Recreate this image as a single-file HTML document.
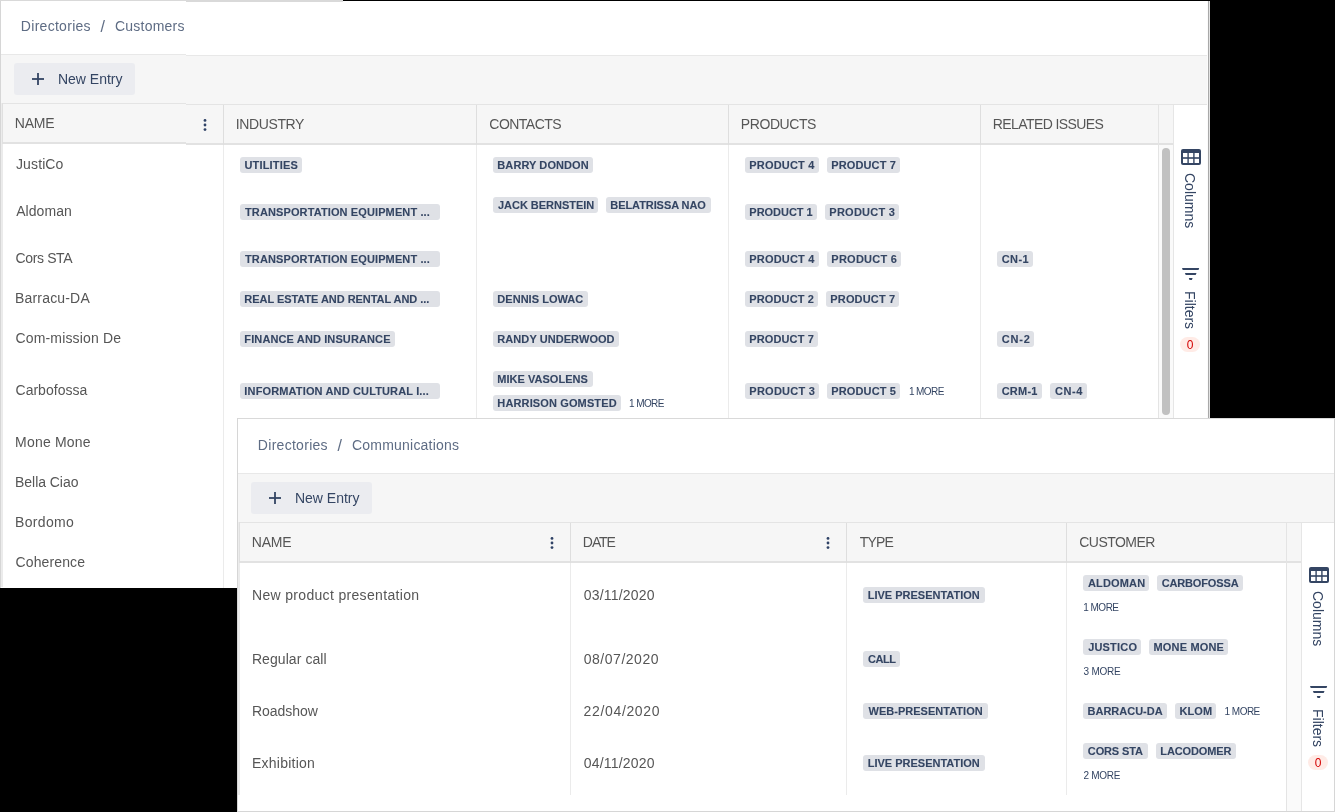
<!DOCTYPE html>
<html><head><meta charset="utf-8"><title>Directories</title><style>
*{margin:0;padding:0;box-sizing:border-box}
html,body{width:1335px;height:812px;overflow:hidden;background:#000}
body{position:relative;font-family:"Liberation Sans", sans-serif;-webkit-font-smoothing:antialiased}
.t{position:absolute;white-space:pre;line-height:normal}
.r{position:absolute}
.tag{position:absolute;height:16px;background:#dfe1e6;border-radius:3px;color:#344563;
 font-weight:bold;font-size:11px;line-height:16px;padding-left:4.5px;white-space:nowrap;overflow:hidden}
.tag span{position:relative;top:0px}
.frame{position:absolute;overflow:hidden}
.lay{will-change:transform}
</style></head>
<body>
<div class="frame lay" style="left:186px;top:0;width:1024px;height:588px;">
 <div class="frame" style="left:-186px;top:0;width:1210px;height:589px;"><div class="r" style="left:0px;top:0px;width:1210px;height:590px;background:#fff;"></div><div class="r" style="left:0px;top:0px;width:1210px;height:1px;background:#d9d9d9;"></div><div class="r" style="left:0px;top:0px;width:1px;height:590px;background:#d6d6d6;"></div><div class="t" style="left:20.85px;top:19px;font-size:14px;color:#5e6c84;letter-spacing:0.285px;">Directories</div><div class="t" style="left:100.50px;top:19px;font-size:16px;color:#5e6c84;letter-spacing:0.000px;">/</div><div class="t" style="left:115.00px;top:19px;font-size:14px;color:#5e6c84;letter-spacing:0.213px;">Customers</div><div class="r" style="left:1px;top:55px;width:1209px;height:1px;background:#e8e8e8;"></div><div class="r" style="left:1px;top:56px;width:1209px;height:48px;background:#f6f6f6;"></div><div class="r" style="left:14px;top:64px;width:121px;height:32px;background:#ebecf0;border-radius:3px;"></div><svg class="r" style="left:32px;top:74px" width="12" height="12" viewBox="0 0 12 12"><rect x="5.1" y="0" width="1.8" height="12" fill="#344563"/><rect x="0" y="5.1" width="12" height="1.8" fill="#344563"/></svg><div class="t" style="left:57.95px;top:72px;font-size:14px;color:#344563;letter-spacing:-0.006px;">New Entry</div><div class="r" style="left:2px;top:104px;width:1207px;height:1px;background:#e4e4e4;"></div><div class="r" style="left:2px;top:105px;width:1171px;height:38px;background:#f6f6f6;"></div><div class="r" style="left:2px;top:143px;width:1171px;height:2px;background:#e2e2e2;"></div><div class="r" style="left:1px;top:104px;width:1px;height:484px;background:#ececec;"></div><div class="r" style="left:2px;top:104px;width:1px;height:41px;background:#e0e0e0;"></div><div class="r" style="left:2px;top:145px;width:1px;height:443px;background:#ebebeb;"></div><div class="r" style="left:1173px;top:105px;width:36px;height:485px;background:#fff;"></div><div class="r" style="left:1173px;top:105px;width:1px;height:485px;background:#e6e6e6;"></div><div class="r" style="left:1158px;top:145px;width:15px;height:445px;background:#fafafa;"></div><div class="r" style="left:1158px;top:105px;width:1px;height:485px;background:#e4e4e4;"></div><div class="r" style="left:223px;top:105px;width:1px;height:40px;background:#dedede;"></div><div class="r" style="left:223px;top:145px;width:1px;height:443px;background:#ebebeb;"></div><div class="r" style="left:476px;top:105px;width:1px;height:40px;background:#dedede;"></div><div class="r" style="left:476px;top:145px;width:1px;height:443px;background:#ebebeb;"></div><div class="r" style="left:728px;top:105px;width:1px;height:40px;background:#dedede;"></div><div class="r" style="left:728px;top:145px;width:1px;height:443px;background:#ebebeb;"></div><div class="r" style="left:980px;top:105px;width:1px;height:40px;background:#dedede;"></div><div class="r" style="left:980px;top:145px;width:1px;height:443px;background:#ebebeb;"></div><div class="t" style="left:14.85px;top:116px;font-size:14px;color:#565656;letter-spacing:-0.267px;">NAME</div><svg class="r" style="left:200.9px;top:116px" width="8" height="18" viewBox="0 0 8 18"><circle cx="4" cy="4.4" r="1.4" fill="#2f4266"/><circle cx="4" cy="9" r="1.4" fill="#2f4266"/><circle cx="4" cy="13.6" r="1.4" fill="#2f4266"/></svg><div class="t" style="left:235.70px;top:116px;font-size:14px;color:#565656;letter-spacing:-0.371px;">INDUSTRY</div><div class="t" style="left:489.30px;top:116px;font-size:14px;color:#565656;letter-spacing:-0.521px;">CONTACTS</div><div class="t" style="left:740.85px;top:116px;font-size:14px;color:#565656;letter-spacing:-0.421px;">PRODUCTS</div><div class="t" style="left:992.85px;top:116px;font-size:14px;color:#565656;letter-spacing:-0.604px;">RELATED ISSUES</div><svg class="r" style="left:1181.2px;top:149px" width="20" height="16" viewBox="0 0 20 16"><rect x="0" y="0" width="20" height="16" rx="2" fill="#344563"/><rect x="2" y="4" width="4.4" height="4.2" fill="#fff"/><rect x="7.8" y="4" width="4.4" height="4.2" fill="#fff"/><rect x="13.6" y="4" width="4.4" height="4.2" fill="#fff"/><rect x="2" y="9.8" width="4.4" height="4.2" fill="#fff"/><rect x="7.8" y="9.8" width="4.4" height="4.2" fill="#fff"/><rect x="13.6" y="9.8" width="4.4" height="4.2" fill="#fff"/></svg><div class="t" style="left:1197.6px;top:173.3px;font-size:14px;color:#344563;transform-origin:0 0;transform:rotate(90deg);">Columns</div><svg class="r" style="left:1182.4px;top:268px" width="18" height="12" viewBox="0 0 18 12"><polygon points="0,0 17.2,0 16.5,2 0.7,2" fill="#344563"/><polygon points="2.9,5 14.5,5 13.7,7 3.7,7" fill="#344563"/><polygon points="6.8,10 10.6,10 9.9,12 7.5,12" fill="#344563"/></svg><div class="t" style="left:1197.6px;top:290.8px;font-size:14px;color:#344563;transform-origin:0 0;transform:rotate(90deg);">Filters</div><div class="r" style="left:1180px;top:337px;width:20px;height:15px;border-radius:8px;background:#ffebe6;"></div><div class="t" style="left:1186.7px;top:338px;font-size:12px;color:#d40000;">0</div><div class="r" style="left:1207px;top:1px;width:1px;height:590px;background:#fbfbfb;"></div><div class="r" style="left:1208px;top:0px;width:1px;height:590px;background:#a9a9a9;"></div><div class="r" style="left:1209px;top:0px;width:1px;height:590px;background:#e2e2e2;"></div><div class="r" style="left:1162px;top:148px;width:8px;height:267px;background:#c1c1c1;border-radius:4px;"></div><div class="t" style="left:16.00px;top:157px;font-size:14px;color:#565656;letter-spacing:0.117px;">JustiCo</div><div class="t" style="left:16.15px;top:204px;font-size:14px;color:#565656;letter-spacing:0.067px;">Aldoman</div><div class="t" style="left:15.50px;top:251px;font-size:14px;color:#565656;letter-spacing:-0.364px;">Cors STA</div><div class="t" style="left:15.05px;top:291px;font-size:14px;color:#565656;letter-spacing:0.172px;">Barracu-DA</div><div class="t" style="left:15.50px;top:331px;font-size:14px;color:#565656;letter-spacing:0.158px;">Com-mission De</div><div class="t" style="left:15.50px;top:383px;font-size:14px;color:#565656;letter-spacing:0.022px;">Carbofossa</div><div class="t" style="left:15.05px;top:435px;font-size:14px;color:#565656;letter-spacing:0.206px;">Mone Mone</div><div class="t" style="left:15.05px;top:475px;font-size:14px;color:#565656;letter-spacing:-0.044px;">Bella Ciao</div><div class="t" style="left:15.05px;top:515px;font-size:14px;color:#565656;letter-spacing:0.342px;">Bordomo</div><div class="t" style="left:15.50px;top:555px;font-size:14px;color:#565656;letter-spacing:0.131px;">Coherence</div><div class="tag" style="left:240.00px;top:157.00px;width:61.80px;"></div><div class="t" style="left:244.45px;top:159px;font-size:11px;color:#344563;letter-spacing:0.181px;font-weight:bold;-webkit-text-stroke:0.1px currentColor;">UTILITIES</div><div class="tag" style="left:493.00px;top:157.00px;width:99.90px;"></div><div class="t" style="left:497.35px;top:159px;font-size:11px;color:#344563;letter-spacing:0.077px;font-weight:bold;-webkit-text-stroke:0.1px currentColor;">BARRY DONDON</div><div class="tag" style="left:745.00px;top:157.00px;width:73.70px;"></div><div class="t" style="left:749.35px;top:159px;font-size:11px;color:#344563;letter-spacing:0.181px;font-weight:bold;-webkit-text-stroke:0.1px currentColor;">PRODUCT 4</div><div class="tag" style="left:827.00px;top:157.00px;width:72.70px;"></div><div class="t" style="left:831.35px;top:159px;font-size:11px;color:#344563;letter-spacing:0.106px;font-weight:bold;-webkit-text-stroke:0.1px currentColor;">PRODUCT 7</div><div class="tag" style="left:240.00px;top:204.00px;width:200.00px;"></div><div class="t" style="left:245.00px;top:206px;font-size:11px;color:#344563;letter-spacing:0.115px;font-weight:bold;-webkit-text-stroke:0.1px currentColor;">TRANSPORTATION EQUIPMENT ...</div><div class="tag" style="left:493.00px;top:197.00px;width:104.90px;"></div><div class="t" style="left:497.95px;top:199px;font-size:11px;color:#344563;letter-spacing:-0.019px;font-weight:bold;-webkit-text-stroke:0.1px currentColor;">JACK BERNSTEIN</div><div class="tag" style="left:606.00px;top:197.00px;width:105.00px;"></div><div class="t" style="left:610.35px;top:199px;font-size:11px;color:#344563;letter-spacing:-0.081px;font-weight:bold;-webkit-text-stroke:0.1px currentColor;">BELATRISSA NAO</div><div class="tag" style="left:745.00px;top:204.00px;width:71.80px;"></div><div class="t" style="left:749.35px;top:206px;font-size:11px;color:#344563;letter-spacing:-0.025px;font-weight:bold;-webkit-text-stroke:0.1px currentColor;">PRODUCT 1</div><div class="tag" style="left:825.00px;top:204.00px;width:73.90px;"></div><div class="t" style="left:829.35px;top:206px;font-size:11px;color:#344563;letter-spacing:0.250px;font-weight:bold;-webkit-text-stroke:0.1px currentColor;">PRODUCT 3</div><div class="tag" style="left:240.00px;top:251.00px;width:200.00px;"></div><div class="t" style="left:245.00px;top:253px;font-size:11px;color:#344563;letter-spacing:0.115px;font-weight:bold;-webkit-text-stroke:0.1px currentColor;">TRANSPORTATION EQUIPMENT ...</div><div class="tag" style="left:745.00px;top:251.00px;width:73.70px;"></div><div class="t" style="left:749.35px;top:253px;font-size:11px;color:#344563;letter-spacing:0.181px;font-weight:bold;-webkit-text-stroke:0.1px currentColor;">PRODUCT 4</div><div class="tag" style="left:827.00px;top:251.00px;width:73.90px;"></div><div class="t" style="left:831.35px;top:253px;font-size:11px;color:#344563;letter-spacing:0.250px;font-weight:bold;-webkit-text-stroke:0.1px currentColor;">PRODUCT 6</div><div class="tag" style="left:997.00px;top:251.00px;width:35.70px;"></div><div class="t" style="left:1001.65px;top:253px;font-size:11px;color:#344563;letter-spacing:0.433px;font-weight:bold;-webkit-text-stroke:0.1px currentColor;">CN-1</div><div class="tag" style="left:240.00px;top:291.00px;width:200.00px;"></div><div class="t" style="left:244.35px;top:293px;font-size:11px;color:#344563;letter-spacing:-0.050px;font-weight:bold;-webkit-text-stroke:0.1px currentColor;">REAL ESTATE AND RENTAL AND ...</div><div class="tag" style="left:493.00px;top:291.00px;width:94.90px;"></div><div class="t" style="left:497.35px;top:293px;font-size:11px;color:#344563;letter-spacing:0.027px;font-weight:bold;-webkit-text-stroke:0.1px currentColor;">DENNIS LOWAC</div><div class="tag" style="left:745.00px;top:291.00px;width:72.80px;"></div><div class="t" style="left:749.35px;top:293px;font-size:11px;color:#344563;letter-spacing:0.112px;font-weight:bold;-webkit-text-stroke:0.1px currentColor;">PRODUCT 2</div><div class="tag" style="left:826.00px;top:291.00px;width:73.00px;"></div><div class="t" style="left:830.35px;top:293px;font-size:11px;color:#344563;letter-spacing:0.144px;font-weight:bold;-webkit-text-stroke:0.1px currentColor;">PRODUCT 7</div><div class="tag" style="left:240.00px;top:331.00px;width:154.90px;"></div><div class="t" style="left:244.35px;top:333px;font-size:11px;color:#344563;letter-spacing:0.117px;font-weight:bold;-webkit-text-stroke:0.1px currentColor;">FINANCE AND INSURANCE</div><div class="tag" style="left:493.00px;top:331.00px;width:125.90px;"></div><div class="t" style="left:497.35px;top:333px;font-size:11px;color:#344563;letter-spacing:0.064px;font-weight:bold;-webkit-text-stroke:0.1px currentColor;">RANDY UNDERWOOD</div><div class="tag" style="left:745.00px;top:331.00px;width:72.70px;"></div><div class="t" style="left:749.35px;top:333px;font-size:11px;color:#344563;letter-spacing:0.106px;font-weight:bold;-webkit-text-stroke:0.1px currentColor;">PRODUCT 7</div><div class="tag" style="left:997.00px;top:331.00px;width:36.80px;"></div><div class="t" style="left:1001.65px;top:333px;font-size:11px;color:#344563;letter-spacing:0.833px;font-weight:bold;-webkit-text-stroke:0.1px currentColor;">CN-2</div><div class="tag" style="left:240.00px;top:383.00px;width:200.00px;"></div><div class="t" style="left:244.35px;top:385px;font-size:11px;color:#344563;letter-spacing:0.143px;font-weight:bold;-webkit-text-stroke:0.1px currentColor;">INFORMATION AND CULTURAL I...</div><div class="tag" style="left:493.00px;top:371.00px;width:99.60px;"></div><div class="t" style="left:497.35px;top:373px;font-size:11px;color:#344563;letter-spacing:0.017px;font-weight:bold;-webkit-text-stroke:0.1px currentColor;">MIKE VASOLENS</div><div class="tag" style="left:493.00px;top:395.00px;width:127.60px;"></div><div class="t" style="left:497.35px;top:397px;font-size:11px;color:#344563;letter-spacing:0.130px;font-weight:bold;-webkit-text-stroke:0.1px currentColor;">HARRISON GOMSTED</div><div class="tag" style="left:745.00px;top:383.00px;width:73.80px;"></div><div class="t" style="left:749.35px;top:385px;font-size:11px;color:#344563;letter-spacing:0.237px;font-weight:bold;-webkit-text-stroke:0.1px currentColor;">PRODUCT 3</div><div class="tag" style="left:827.00px;top:383.00px;width:73.00px;"></div><div class="t" style="left:831.35px;top:385px;font-size:11px;color:#344563;letter-spacing:0.125px;font-weight:bold;-webkit-text-stroke:0.1px currentColor;">PRODUCT 5</div><div class="tag" style="left:997.00px;top:383.00px;width:44.50px;"></div><div class="t" style="left:1001.65px;top:385px;font-size:11px;color:#344563;letter-spacing:0.237px;font-weight:bold;-webkit-text-stroke:0.1px currentColor;">CRM-1</div><div class="tag" style="left:1050.30px;top:383.00px;width:36.50px;"></div><div class="t" style="left:1054.95px;top:385px;font-size:11px;color:#344563;letter-spacing:0.617px;font-weight:bold;-webkit-text-stroke:0.1px currentColor;">CN-4</div><div class="t" style="left:628.95px;top:398px;font-size:10px;color:#344563;letter-spacing:-0.570px;">1 MORE</div><div class="t" style="left:908.95px;top:386px;font-size:10px;color:#344563;letter-spacing:-0.590px;">1 MORE</div></div>
</div>
<div class="frame lay" style="left:0;top:0;width:186px;height:588px;">
 <div class="frame" style="left:0;top:-1px;width:1210px;height:590px;"><div class="r" style="left:0px;top:0px;width:1210px;height:590px;background:#fff;"></div><div class="r" style="left:0px;top:0px;width:1210px;height:1px;background:#d9d9d9;"></div><div class="r" style="left:0px;top:0px;width:1px;height:590px;background:#d6d6d6;"></div><div class="t" style="left:20.85px;top:19px;font-size:14px;color:#5e6c84;letter-spacing:0.285px;">Directories</div><div class="t" style="left:100.50px;top:19px;font-size:16px;color:#5e6c84;letter-spacing:0.000px;">/</div><div class="t" style="left:115.00px;top:19px;font-size:14px;color:#5e6c84;letter-spacing:0.213px;">Customers</div><div class="r" style="left:1px;top:55px;width:1209px;height:1px;background:#e8e8e8;"></div><div class="r" style="left:1px;top:56px;width:1209px;height:48px;background:#f6f6f6;"></div><div class="r" style="left:14px;top:64px;width:121px;height:32px;background:#ebecf0;border-radius:3px;"></div><svg class="r" style="left:32px;top:74px" width="12" height="12" viewBox="0 0 12 12"><rect x="5.1" y="0" width="1.8" height="12" fill="#344563"/><rect x="0" y="5.1" width="12" height="1.8" fill="#344563"/></svg><div class="t" style="left:57.95px;top:72px;font-size:14px;color:#344563;letter-spacing:-0.006px;">New Entry</div><div class="r" style="left:2px;top:104px;width:1207px;height:1px;background:#e4e4e4;"></div><div class="r" style="left:2px;top:105px;width:1171px;height:38px;background:#f6f6f6;"></div><div class="r" style="left:2px;top:143px;width:1171px;height:2px;background:#e2e2e2;"></div><div class="r" style="left:1px;top:104px;width:1px;height:484px;background:#ececec;"></div><div class="r" style="left:2px;top:104px;width:1px;height:41px;background:#e0e0e0;"></div><div class="r" style="left:2px;top:145px;width:1px;height:443px;background:#ebebeb;"></div><div class="r" style="left:1173px;top:105px;width:36px;height:485px;background:#fff;"></div><div class="r" style="left:1173px;top:105px;width:1px;height:485px;background:#e6e6e6;"></div><div class="r" style="left:1158px;top:145px;width:15px;height:445px;background:#fafafa;"></div><div class="r" style="left:1158px;top:105px;width:1px;height:485px;background:#e4e4e4;"></div><div class="r" style="left:223px;top:105px;width:1px;height:40px;background:#dedede;"></div><div class="r" style="left:223px;top:145px;width:1px;height:443px;background:#ebebeb;"></div><div class="r" style="left:476px;top:105px;width:1px;height:40px;background:#dedede;"></div><div class="r" style="left:476px;top:145px;width:1px;height:443px;background:#ebebeb;"></div><div class="r" style="left:728px;top:105px;width:1px;height:40px;background:#dedede;"></div><div class="r" style="left:728px;top:145px;width:1px;height:443px;background:#ebebeb;"></div><div class="r" style="left:980px;top:105px;width:1px;height:40px;background:#dedede;"></div><div class="r" style="left:980px;top:145px;width:1px;height:443px;background:#ebebeb;"></div><div class="t" style="left:14.85px;top:116px;font-size:14px;color:#565656;letter-spacing:-0.267px;">NAME</div><svg class="r" style="left:200.9px;top:116px" width="8" height="18" viewBox="0 0 8 18"><circle cx="4" cy="4.4" r="1.4" fill="#2f4266"/><circle cx="4" cy="9" r="1.4" fill="#2f4266"/><circle cx="4" cy="13.6" r="1.4" fill="#2f4266"/></svg><div class="t" style="left:235.70px;top:116px;font-size:14px;color:#565656;letter-spacing:-0.371px;">INDUSTRY</div><div class="t" style="left:489.30px;top:116px;font-size:14px;color:#565656;letter-spacing:-0.521px;">CONTACTS</div><div class="t" style="left:740.85px;top:116px;font-size:14px;color:#565656;letter-spacing:-0.421px;">PRODUCTS</div><div class="t" style="left:992.85px;top:116px;font-size:14px;color:#565656;letter-spacing:-0.604px;">RELATED ISSUES</div><svg class="r" style="left:1181.2px;top:149px" width="20" height="16" viewBox="0 0 20 16"><rect x="0" y="0" width="20" height="16" rx="2" fill="#344563"/><rect x="2" y="4" width="4.4" height="4.2" fill="#fff"/><rect x="7.8" y="4" width="4.4" height="4.2" fill="#fff"/><rect x="13.6" y="4" width="4.4" height="4.2" fill="#fff"/><rect x="2" y="9.8" width="4.4" height="4.2" fill="#fff"/><rect x="7.8" y="9.8" width="4.4" height="4.2" fill="#fff"/><rect x="13.6" y="9.8" width="4.4" height="4.2" fill="#fff"/></svg><div class="t" style="left:1197.6px;top:173.3px;font-size:14px;color:#344563;transform-origin:0 0;transform:rotate(90deg);">Columns</div><svg class="r" style="left:1182.4px;top:268px" width="18" height="12" viewBox="0 0 18 12"><polygon points="0,0 17.2,0 16.5,2 0.7,2" fill="#344563"/><polygon points="2.9,5 14.5,5 13.7,7 3.7,7" fill="#344563"/><polygon points="6.8,10 10.6,10 9.9,12 7.5,12" fill="#344563"/></svg><div class="t" style="left:1197.6px;top:290.8px;font-size:14px;color:#344563;transform-origin:0 0;transform:rotate(90deg);">Filters</div><div class="r" style="left:1180px;top:337px;width:20px;height:15px;border-radius:8px;background:#ffebe6;"></div><div class="t" style="left:1186.7px;top:338px;font-size:12px;color:#d40000;">0</div><div class="r" style="left:1207px;top:1px;width:1px;height:590px;background:#fbfbfb;"></div><div class="r" style="left:1208px;top:0px;width:1px;height:590px;background:#a9a9a9;"></div><div class="r" style="left:1209px;top:0px;width:1px;height:590px;background:#e2e2e2;"></div><div class="r" style="left:1162px;top:148px;width:8px;height:267px;background:#c1c1c1;border-radius:4px;"></div><div class="t" style="left:16.00px;top:157px;font-size:14px;color:#565656;letter-spacing:0.117px;">JustiCo</div><div class="t" style="left:16.15px;top:204px;font-size:14px;color:#565656;letter-spacing:0.067px;">Aldoman</div><div class="t" style="left:15.50px;top:251px;font-size:14px;color:#565656;letter-spacing:-0.364px;">Cors STA</div><div class="t" style="left:15.05px;top:291px;font-size:14px;color:#565656;letter-spacing:0.172px;">Barracu-DA</div><div class="t" style="left:15.50px;top:331px;font-size:14px;color:#565656;letter-spacing:0.158px;">Com-mission De</div><div class="t" style="left:15.50px;top:383px;font-size:14px;color:#565656;letter-spacing:0.022px;">Carbofossa</div><div class="t" style="left:15.05px;top:435px;font-size:14px;color:#565656;letter-spacing:0.206px;">Mone Mone</div><div class="t" style="left:15.05px;top:475px;font-size:14px;color:#565656;letter-spacing:-0.044px;">Bella Ciao</div><div class="t" style="left:15.05px;top:515px;font-size:14px;color:#565656;letter-spacing:0.342px;">Bordomo</div><div class="t" style="left:15.50px;top:555px;font-size:14px;color:#565656;letter-spacing:0.131px;">Coherence</div><div class="tag" style="left:240.00px;top:157.00px;width:61.80px;"></div><div class="t" style="left:244.45px;top:159px;font-size:11px;color:#344563;letter-spacing:0.181px;font-weight:bold;-webkit-text-stroke:0.1px currentColor;">UTILITIES</div><div class="tag" style="left:493.00px;top:157.00px;width:99.90px;"></div><div class="t" style="left:497.35px;top:159px;font-size:11px;color:#344563;letter-spacing:0.077px;font-weight:bold;-webkit-text-stroke:0.1px currentColor;">BARRY DONDON</div><div class="tag" style="left:745.00px;top:157.00px;width:73.70px;"></div><div class="t" style="left:749.35px;top:159px;font-size:11px;color:#344563;letter-spacing:0.181px;font-weight:bold;-webkit-text-stroke:0.1px currentColor;">PRODUCT 4</div><div class="tag" style="left:827.00px;top:157.00px;width:72.70px;"></div><div class="t" style="left:831.35px;top:159px;font-size:11px;color:#344563;letter-spacing:0.106px;font-weight:bold;-webkit-text-stroke:0.1px currentColor;">PRODUCT 7</div><div class="tag" style="left:240.00px;top:204.00px;width:200.00px;"></div><div class="t" style="left:245.00px;top:206px;font-size:11px;color:#344563;letter-spacing:0.115px;font-weight:bold;-webkit-text-stroke:0.1px currentColor;">TRANSPORTATION EQUIPMENT ...</div><div class="tag" style="left:493.00px;top:197.00px;width:104.90px;"></div><div class="t" style="left:497.95px;top:199px;font-size:11px;color:#344563;letter-spacing:-0.019px;font-weight:bold;-webkit-text-stroke:0.1px currentColor;">JACK BERNSTEIN</div><div class="tag" style="left:606.00px;top:197.00px;width:105.00px;"></div><div class="t" style="left:610.35px;top:199px;font-size:11px;color:#344563;letter-spacing:-0.081px;font-weight:bold;-webkit-text-stroke:0.1px currentColor;">BELATRISSA NAO</div><div class="tag" style="left:745.00px;top:204.00px;width:71.80px;"></div><div class="t" style="left:749.35px;top:206px;font-size:11px;color:#344563;letter-spacing:-0.025px;font-weight:bold;-webkit-text-stroke:0.1px currentColor;">PRODUCT 1</div><div class="tag" style="left:825.00px;top:204.00px;width:73.90px;"></div><div class="t" style="left:829.35px;top:206px;font-size:11px;color:#344563;letter-spacing:0.250px;font-weight:bold;-webkit-text-stroke:0.1px currentColor;">PRODUCT 3</div><div class="tag" style="left:240.00px;top:251.00px;width:200.00px;"></div><div class="t" style="left:245.00px;top:253px;font-size:11px;color:#344563;letter-spacing:0.115px;font-weight:bold;-webkit-text-stroke:0.1px currentColor;">TRANSPORTATION EQUIPMENT ...</div><div class="tag" style="left:745.00px;top:251.00px;width:73.70px;"></div><div class="t" style="left:749.35px;top:253px;font-size:11px;color:#344563;letter-spacing:0.181px;font-weight:bold;-webkit-text-stroke:0.1px currentColor;">PRODUCT 4</div><div class="tag" style="left:827.00px;top:251.00px;width:73.90px;"></div><div class="t" style="left:831.35px;top:253px;font-size:11px;color:#344563;letter-spacing:0.250px;font-weight:bold;-webkit-text-stroke:0.1px currentColor;">PRODUCT 6</div><div class="tag" style="left:997.00px;top:251.00px;width:35.70px;"></div><div class="t" style="left:1001.65px;top:253px;font-size:11px;color:#344563;letter-spacing:0.433px;font-weight:bold;-webkit-text-stroke:0.1px currentColor;">CN-1</div><div class="tag" style="left:240.00px;top:291.00px;width:200.00px;"></div><div class="t" style="left:244.35px;top:293px;font-size:11px;color:#344563;letter-spacing:-0.050px;font-weight:bold;-webkit-text-stroke:0.1px currentColor;">REAL ESTATE AND RENTAL AND ...</div><div class="tag" style="left:493.00px;top:291.00px;width:94.90px;"></div><div class="t" style="left:497.35px;top:293px;font-size:11px;color:#344563;letter-spacing:0.027px;font-weight:bold;-webkit-text-stroke:0.1px currentColor;">DENNIS LOWAC</div><div class="tag" style="left:745.00px;top:291.00px;width:72.80px;"></div><div class="t" style="left:749.35px;top:293px;font-size:11px;color:#344563;letter-spacing:0.112px;font-weight:bold;-webkit-text-stroke:0.1px currentColor;">PRODUCT 2</div><div class="tag" style="left:826.00px;top:291.00px;width:73.00px;"></div><div class="t" style="left:830.35px;top:293px;font-size:11px;color:#344563;letter-spacing:0.144px;font-weight:bold;-webkit-text-stroke:0.1px currentColor;">PRODUCT 7</div><div class="tag" style="left:240.00px;top:331.00px;width:154.90px;"></div><div class="t" style="left:244.35px;top:333px;font-size:11px;color:#344563;letter-spacing:0.117px;font-weight:bold;-webkit-text-stroke:0.1px currentColor;">FINANCE AND INSURANCE</div><div class="tag" style="left:493.00px;top:331.00px;width:125.90px;"></div><div class="t" style="left:497.35px;top:333px;font-size:11px;color:#344563;letter-spacing:0.064px;font-weight:bold;-webkit-text-stroke:0.1px currentColor;">RANDY UNDERWOOD</div><div class="tag" style="left:745.00px;top:331.00px;width:72.70px;"></div><div class="t" style="left:749.35px;top:333px;font-size:11px;color:#344563;letter-spacing:0.106px;font-weight:bold;-webkit-text-stroke:0.1px currentColor;">PRODUCT 7</div><div class="tag" style="left:997.00px;top:331.00px;width:36.80px;"></div><div class="t" style="left:1001.65px;top:333px;font-size:11px;color:#344563;letter-spacing:0.833px;font-weight:bold;-webkit-text-stroke:0.1px currentColor;">CN-2</div><div class="tag" style="left:240.00px;top:383.00px;width:200.00px;"></div><div class="t" style="left:244.35px;top:385px;font-size:11px;color:#344563;letter-spacing:0.143px;font-weight:bold;-webkit-text-stroke:0.1px currentColor;">INFORMATION AND CULTURAL I...</div><div class="tag" style="left:493.00px;top:371.00px;width:99.60px;"></div><div class="t" style="left:497.35px;top:373px;font-size:11px;color:#344563;letter-spacing:0.017px;font-weight:bold;-webkit-text-stroke:0.1px currentColor;">MIKE VASOLENS</div><div class="tag" style="left:493.00px;top:395.00px;width:127.60px;"></div><div class="t" style="left:497.35px;top:397px;font-size:11px;color:#344563;letter-spacing:0.130px;font-weight:bold;-webkit-text-stroke:0.1px currentColor;">HARRISON GOMSTED</div><div class="tag" style="left:745.00px;top:383.00px;width:73.80px;"></div><div class="t" style="left:749.35px;top:385px;font-size:11px;color:#344563;letter-spacing:0.237px;font-weight:bold;-webkit-text-stroke:0.1px currentColor;">PRODUCT 3</div><div class="tag" style="left:827.00px;top:383.00px;width:73.00px;"></div><div class="t" style="left:831.35px;top:385px;font-size:11px;color:#344563;letter-spacing:0.125px;font-weight:bold;-webkit-text-stroke:0.1px currentColor;">PRODUCT 5</div><div class="tag" style="left:997.00px;top:383.00px;width:44.50px;"></div><div class="t" style="left:1001.65px;top:385px;font-size:11px;color:#344563;letter-spacing:0.237px;font-weight:bold;-webkit-text-stroke:0.1px currentColor;">CRM-1</div><div class="tag" style="left:1050.30px;top:383.00px;width:36.50px;"></div><div class="t" style="left:1054.95px;top:385px;font-size:11px;color:#344563;letter-spacing:0.617px;font-weight:bold;-webkit-text-stroke:0.1px currentColor;">CN-4</div><div class="t" style="left:628.95px;top:398px;font-size:10px;color:#344563;letter-spacing:-0.570px;">1 MORE</div><div class="t" style="left:908.95px;top:386px;font-size:10px;color:#344563;letter-spacing:-0.590px;">1 MORE</div></div>
</div>
<div class="r" style="left:343px;top:0;width:870px;height:1px;background:#000"></div>
<div class="r" style="left:0;top:0;width:186px;height:1px;background:#d9d9d9"></div>
<div class="r" style="left:186px;top:1px;width:157px;height:1px;background:#d9d9d9"></div>
<div class="frame lay" style="left:237px;top:418px;width:1098px;height:394px;"><div class="r" style="left:0px;top:0px;width:1098px;height:394px;background:#fff;"></div><div class="r" style="left:0px;top:0px;width:1098px;height:1px;background:#d9d9d9;"></div><div class="r" style="left:0px;top:0px;width:1px;height:394px;background:#d6d6d6;"></div><div class="t" style="left:20.85px;top:19px;font-size:14px;color:#5e6c84;letter-spacing:0.285px;">Directories</div><div class="t" style="left:100.50px;top:19px;font-size:16px;color:#5e6c84;letter-spacing:0.000px;">/</div><div class="t" style="left:115.00px;top:19px;font-size:14px;color:#5e6c84;letter-spacing:0.212px;">Communications</div><div class="r" style="left:1px;top:55px;width:1097px;height:1px;background:#e8e8e8;"></div><div class="r" style="left:1px;top:56px;width:1097px;height:48px;background:#f6f6f6;"></div><div class="r" style="left:14px;top:64px;width:121px;height:32px;background:#ebecf0;border-radius:3px;"></div><svg class="r" style="left:32px;top:74px" width="12" height="12" viewBox="0 0 12 12"><rect x="5.1" y="0" width="1.8" height="12" fill="#344563"/><rect x="0" y="5.1" width="12" height="1.8" fill="#344563"/></svg><div class="t" style="left:57.95px;top:72px;font-size:14px;color:#344563;letter-spacing:-0.006px;">New Entry</div><div class="r" style="left:2px;top:104px;width:1095px;height:1px;background:#e4e4e4;"></div><div class="r" style="left:2px;top:105px;width:1062px;height:38px;background:#f6f6f6;"></div><div class="r" style="left:2px;top:143px;width:1062px;height:2px;background:#e2e2e2;"></div><div class="r" style="left:1px;top:104px;width:1px;height:273px;background:#ececec;"></div><div class="r" style="left:2px;top:104px;width:1px;height:41px;background:#e0e0e0;"></div><div class="r" style="left:2px;top:145px;width:1px;height:232px;background:#ebebeb;"></div><div class="r" style="left:1064px;top:105px;width:33px;height:289px;background:#fff;"></div><div class="r" style="left:1064px;top:105px;width:1px;height:289px;background:#e6e6e6;"></div><div class="r" style="left:1049px;top:145px;width:15px;height:249px;background:#fafafa;"></div><div class="r" style="left:1049px;top:105px;width:1px;height:289px;background:#e4e4e4;"></div><div class="r" style="left:333px;top:105px;width:1px;height:40px;background:#dedede;"></div><div class="r" style="left:333px;top:145px;width:1px;height:232px;background:#ebebeb;"></div><div class="r" style="left:609px;top:105px;width:1px;height:40px;background:#dedede;"></div><div class="r" style="left:609px;top:145px;width:1px;height:232px;background:#ebebeb;"></div><div class="r" style="left:829px;top:105px;width:1px;height:40px;background:#dedede;"></div><div class="r" style="left:829px;top:145px;width:1px;height:232px;background:#ebebeb;"></div><div class="t" style="left:14.85px;top:116px;font-size:14px;color:#565656;letter-spacing:-0.267px;">NAME</div><svg class="r" style="left:310.9px;top:116px" width="8" height="18" viewBox="0 0 8 18"><circle cx="4" cy="4.4" r="1.4" fill="#2f4266"/><circle cx="4" cy="9" r="1.4" fill="#2f4266"/><circle cx="4" cy="13.6" r="1.4" fill="#2f4266"/></svg><div class="t" style="left:345.85px;top:116px;font-size:14px;color:#565656;letter-spacing:-1.067px;">DATE</div><svg class="r" style="left:586.9px;top:116px" width="8" height="18" viewBox="0 0 8 18"><circle cx="4" cy="4.4" r="1.4" fill="#2f4266"/><circle cx="4" cy="9" r="1.4" fill="#2f4266"/><circle cx="4" cy="13.6" r="1.4" fill="#2f4266"/></svg><div class="t" style="left:622.70px;top:116px;font-size:14px;color:#565656;letter-spacing:-0.833px;">TYPE</div><div class="t" style="left:842.30px;top:116px;font-size:14px;color:#565656;letter-spacing:-0.550px;">CUSTOMER</div><svg class="r" style="left:1072.2px;top:149px" width="20" height="16" viewBox="0 0 20 16"><rect x="0" y="0" width="20" height="16" rx="2" fill="#344563"/><rect x="2" y="4" width="4.4" height="4.2" fill="#fff"/><rect x="7.8" y="4" width="4.4" height="4.2" fill="#fff"/><rect x="13.6" y="4" width="4.4" height="4.2" fill="#fff"/><rect x="2" y="9.8" width="4.4" height="4.2" fill="#fff"/><rect x="7.8" y="9.8" width="4.4" height="4.2" fill="#fff"/><rect x="13.6" y="9.8" width="4.4" height="4.2" fill="#fff"/></svg><div class="t" style="left:1088.6px;top:173.3px;font-size:14px;color:#344563;transform-origin:0 0;transform:rotate(90deg);">Columns</div><svg class="r" style="left:1073.4px;top:268px" width="18" height="12" viewBox="0 0 18 12"><polygon points="0,0 17.2,0 16.5,2 0.7,2" fill="#344563"/><polygon points="2.9,5 14.5,5 13.7,7 3.7,7" fill="#344563"/><polygon points="6.8,10 10.6,10 9.9,12 7.5,12" fill="#344563"/></svg><div class="t" style="left:1088.6px;top:290.8px;font-size:14px;color:#344563;transform-origin:0 0;transform:rotate(90deg);">Filters</div><div class="r" style="left:1071px;top:337px;width:20px;height:15px;border-radius:8px;background:#ffebe6;"></div><div class="t" style="left:1077.7px;top:338px;font-size:12px;color:#d40000;">0</div><div class="r" style="left:1097px;top:0px;width:1px;height:394px;background:#d6d6d6;"></div><div class="r" style="left:0px;top:393px;width:1098px;height:1px;background:#d6d6d6;"></div><div class="t" style="left:14.95px;top:169px;font-size:14px;color:#565656;letter-spacing:0.330px;">New product presentation</div><div class="t" style="left:346.75px;top:169px;font-size:14px;color:#565656;letter-spacing:0.189px;">03/11/2020</div><div class="t" style="left:14.95px;top:233px;font-size:14px;color:#565656;letter-spacing:0.068px;">Regular call</div><div class="t" style="left:346.75px;top:233px;font-size:14px;color:#565656;letter-spacing:0.522px;">08/07/2020</div><div class="t" style="left:14.95px;top:285px;font-size:14px;color:#565656;letter-spacing:-0.021px;">Roadshow</div><div class="t" style="left:346.60px;top:285px;font-size:14px;color:#565656;letter-spacing:0.650px;">22/04/2020</div><div class="t" style="left:14.95px;top:337px;font-size:14px;color:#565656;letter-spacing:0.239px;">Exhibition</div><div class="t" style="left:346.75px;top:337px;font-size:14px;color:#565656;letter-spacing:0.189px;">04/11/2020</div><div class="tag" style="left:626.40px;top:169.00px;width:121.60px;"></div><div class="t" style="left:630.75px;top:171px;font-size:11px;color:#344563;letter-spacing:-0.006px;font-weight:bold;-webkit-text-stroke:0.1px currentColor;">LIVE PRESENTATION</div><div class="tag" style="left:626.40px;top:233.00px;width:36.60px;"></div><div class="t" style="left:631.05px;top:235px;font-size:11px;color:#344563;letter-spacing:-0.483px;font-weight:bold;-webkit-text-stroke:0.1px currentColor;">CALL</div><div class="tag" style="left:626.40px;top:285.00px;width:124.60px;"></div><div class="t" style="left:631.50px;top:287px;font-size:11px;color:#344563;letter-spacing:0.023px;font-weight:bold;-webkit-text-stroke:0.1px currentColor;">WEB-PRESENTATION</div><div class="tag" style="left:626.40px;top:337.00px;width:121.60px;"></div><div class="t" style="left:630.75px;top:339px;font-size:11px;color:#344563;letter-spacing:-0.006px;font-weight:bold;-webkit-text-stroke:0.1px currentColor;">LIVE PRESENTATION</div><div class="tag" style="left:846.20px;top:157.20px;width:65.60px;"></div><div class="t" style="left:851.00px;top:159.20000000000005px;font-size:11px;color:#344563;letter-spacing:0.158px;font-weight:bold;-webkit-text-stroke:0.1px currentColor;">ALDOMAN</div><div class="tag" style="left:920.00px;top:157.20px;width:85.70px;"></div><div class="t" style="left:924.65px;top:159.20000000000005px;font-size:11px;color:#344563;letter-spacing:-0.144px;font-weight:bold;-webkit-text-stroke:0.1px currentColor;">CARBOFOSSA</div><div class="tag" style="left:846.20px;top:221.20px;width:57.70px;"></div><div class="t" style="left:851.15px;top:223.20000000000005px;font-size:11px;color:#344563;letter-spacing:0.192px;font-weight:bold;-webkit-text-stroke:0.1px currentColor;">JUSTICO</div><div class="tag" style="left:912.10px;top:221.20px;width:78.80px;"></div><div class="t" style="left:916.45px;top:223.20000000000005px;font-size:11px;color:#344563;letter-spacing:0.181px;font-weight:bold;-webkit-text-stroke:0.1px currentColor;">MONE MONE</div><div class="tag" style="left:846.20px;top:285.20px;width:83.50px;"></div><div class="t" style="left:850.55px;top:287.20000000000005px;font-size:11px;color:#344563;letter-spacing:-0.011px;font-weight:bold;-webkit-text-stroke:0.1px currentColor;">BARRACU-DA</div><div class="tag" style="left:938.10px;top:285.20px;width:40.70px;"></div><div class="t" style="left:942.45px;top:287.20000000000005px;font-size:11px;color:#344563;letter-spacing:0.100px;font-weight:bold;-webkit-text-stroke:0.1px currentColor;">KLOM</div><div class="tag" style="left:846.20px;top:325.20px;width:64.60px;"></div><div class="t" style="left:850.85px;top:327.20000000000005px;font-size:11px;color:#344563;letter-spacing:-0.143px;font-weight:bold;-webkit-text-stroke:0.1px currentColor;">CORS STA</div><div class="tag" style="left:919.00px;top:325.20px;width:79.60px;"></div><div class="t" style="left:923.35px;top:327.20000000000005px;font-size:11px;color:#344563;letter-spacing:-0.125px;font-weight:bold;-webkit-text-stroke:0.1px currentColor;">LACODOMER</div><div class="t" style="left:846.15px;top:184px;font-size:10px;color:#344563;letter-spacing:-0.490px;">1 MORE</div><div class="t" style="left:846.50px;top:248px;font-size:10px;color:#344563;letter-spacing:-0.220px;">3 MORE</div><div class="t" style="left:987.55px;top:288px;font-size:10px;color:#344563;letter-spacing:-0.530px;">1 MORE</div><div class="t" style="left:846.40px;top:352px;font-size:10px;color:#344563;letter-spacing:-0.260px;">2 MORE</div></div>
</body></html>
